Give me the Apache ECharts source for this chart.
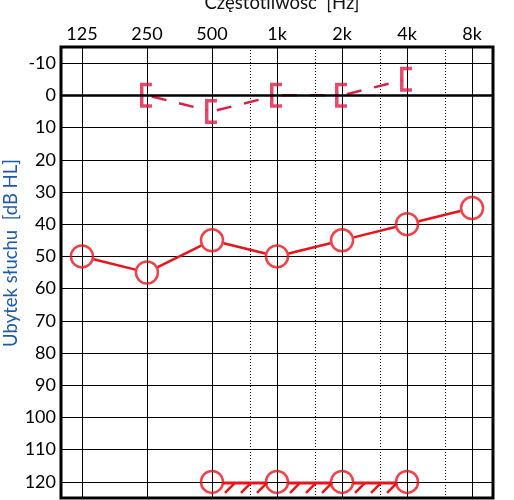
<!DOCTYPE html>
<html>
<head>
<meta charset="utf-8">
<script src="https://cdn.jsdelivr.net/npm/echarts@6/dist/echarts.min.js"></script>
<style>
  html, body { margin: 0; padding: 0; background: #fff; }
  #chart { width: 514px; height: 500px; }
</style>
</head>
<body>
<div id="chart"></div>
<script>
// audiogram, right ear
const freqLabels = ['125', '250', '500', '1k', '2k', '4k', '8k'];
const freqHz = [125, 250, 500, 1000, 2000, 4000, 8000];
const midFreqHz = [750, 1500, 3000, 6000];
const dbTicks = [-10, 0, 10, 20, 30, 40, 50, 60, 70, 80, 90, 100, 110, 120];

// air conduction (circles)
const airFreq = [125, 250, 500, 1000, 2000, 4000, 8000];
const airDb = [50, 55, 45, 50, 45, 40, 35];

// bone conduction, masked (brackets)
const boneFreq = [250, 500, 1000, 2000, 4000];
const boneDb = [0, 5, 0, 0, -5];

// no response at max level
const noRespFreq = [500, 1000, 2000, 4000];
const noRespDb = [120, 120, 120, 120];

const RED = '#e8141c';
const CRIMSON = '#dc1e46';

function oct(f) { return Math.log2(f / 125); }
function pts(fs, ds) { return fs.map((f, i) => [oct(f), ds[i]]); }
function pairs(p) {
    const out = [];
    for (let i = 0; i < p.length - 1; i++) out.push([p[i][0], p[i][1], p[i + 1][0], p[i + 1][1]]);
    return out;
}

// line between two points, shortened by gap px at each end
function segRender(gap, style) {
    return function (params, api) {
        const a = api.coord([api.value(0), api.value(1)]);
        const b = api.coord([api.value(2), api.value(3)]);
        const dx = b[0] - a[0], dy = b[1] - a[1];
        const len = Math.sqrt(dx * dx + dy * dy);
        const ux = dx / len, uy = dy / len;
        return {
            type: 'line',
            shape: { x1: a[0] + ux * gap, y1: a[1] + uy * gap, x2: b[0] - ux * gap, y2: b[1] - uy * gap },
            style: style
        };
    };
}

// horizontal line with hatches under it (no response)
function hatchRender(params, api) {
    const a = api.coord([api.value(0), api.value(1)]);
    const b = api.coord([api.value(2), api.value(3)]);
    const children = [{
        type: 'line',
        shape: { x1: a[0] + 11, y1: a[1] + 1, x2: b[0] - 11, y2: b[1] + 1 },
        style: { stroke: RED, lineWidth: 3 }
    }];
    for (let k = 0; k < 3; k++) {
        const t = a[0] + 18 + k * 16;
        children.push({
            type: 'line',
            shape: { x1: t - 5, y1: a[1] + 11, x2: t + 5, y2: a[1] + 1 },
            style: { stroke: RED, lineWidth: 2.5 }
        });
    }
    return { type: 'group', children: children };
}

const bracketPath = 'path://M0,0 L12,0 L12,3.5 L3.5,3.5 L3.5,21.5 L12,21.5 L12,25 L0,25 Z';

const chart = echarts.init(document.getElementById('chart'), null, { renderer: 'canvas' });
chart.setOption({
    animation: false,
    backgroundColor: '#fff',
    textStyle: { fontFamily: 'Lato' },
    title: {
        text: 'Częstotliwość  [Hz]',
        left: 277,
        textAlign: 'center',
        top: -11,
        textStyle: { fontSize: 18.5, fontWeight: 'normal', color: '#111', fontFamily: 'Lato' }
    },
    graphic: [{
        type: 'text',
        x: 11,
        y: 253,
        rotation: Math.PI / 2,
        style: {
            text: 'Ubytek słuchu  [dB HL]',
            fill: '#1e5aa8',
            font: '18.5px Lato',
            textAlign: 'center',
            textVerticalAlign: 'middle'
        }
    }],
    grid: {
        left: 61, top: 47, width: 432, height: 451,
        show: true, borderColor: '#000', borderWidth: 3, backgroundColor: 'transparent'
    },
    xAxis: [{
        type: 'value',
        position: 'top',
        min: oct(100), max: oct(10000),
        axisLine: { show: false },
        axisTick: { show: false, customValues: freqHz.map(oct) },
        axisLabel: {
            customValues: freqHz.map(oct),
            formatter: (v) => freqLabels[Math.round(v)],
            fontSize: 18, color: '#000', margin: 4
        },
        splitLine: { show: true, lineStyle: { color: '#000', width: 1 } }
    }, {
        type: 'value',
        position: 'bottom',
        min: oct(100), max: oct(10000),
        axisLine: { show: false },
        axisTick: { show: false, customValues: midFreqHz.map(oct) },
        axisLabel: { show: false },
        splitLine: { show: true, lineStyle: { color: '#000', width: 1, type: [1, 2] } }
    }],
    yAxis: {
        type: 'value',
        inverse: true,
        min: -15, max: 125,
        axisLine: { show: false },
        axisTick: { show: false, customValues: dbTicks },
        axisLabel: { customValues: dbTicks, fontSize: 18, color: '#000', margin: 5 },
        splitLine: { show: true, lineStyle: { color: '#000', width: 1 } }
    },
    series: [{
        // 0 dB reference line
        type: 'line',
        data: [],
        silent: true,
        markLine: {
            symbol: 'none', silent: true, label: { show: false },
            lineStyle: { color: '#000', width: 2.5, type: 'solid' },
            data: [{ yAxis: 0 }]
        }
    }, {
        type: 'custom',
        renderItem: segRender(12, { stroke: RED, lineWidth: 2.5 }),
        data: pairs(pts(airFreq, airDb)),
        z: 3
    }, {
        type: 'scatter',
        data: pts(airFreq, airDb),
        symbol: 'circle',
        symbolSize: 22,
        itemStyle: { color: 'transparent', borderColor: RED, borderWidth: 2.5 },
        z: 4
    }, {
        type: 'custom',
        renderItem: segRender(5, { stroke: CRIMSON, lineWidth: 2.5, lineDash: [15, 13] }),
        data: pairs(pts(boneFreq, boneDb)),
        z: 3
    }, {
        type: 'scatter',
        data: pts(boneFreq, boneDb),
        symbol: bracketPath,
        symbolSize: [12, 25],
        symbolOffset: [-1, 0],
        itemStyle: { color: CRIMSON },
        z: 4
    }, {
        type: 'custom',
        renderItem: hatchRender,
        data: pairs(pts(noRespFreq, noRespDb)),
        z: 3
    }, {
        type: 'scatter',
        data: pts(noRespFreq, noRespDb),
        symbol: 'circle',
        symbolSize: 22,
        itemStyle: { color: 'transparent', borderColor: RED, borderWidth: 2.5 },
        z: 4
    }]
});
</script>
</body>
</html>
